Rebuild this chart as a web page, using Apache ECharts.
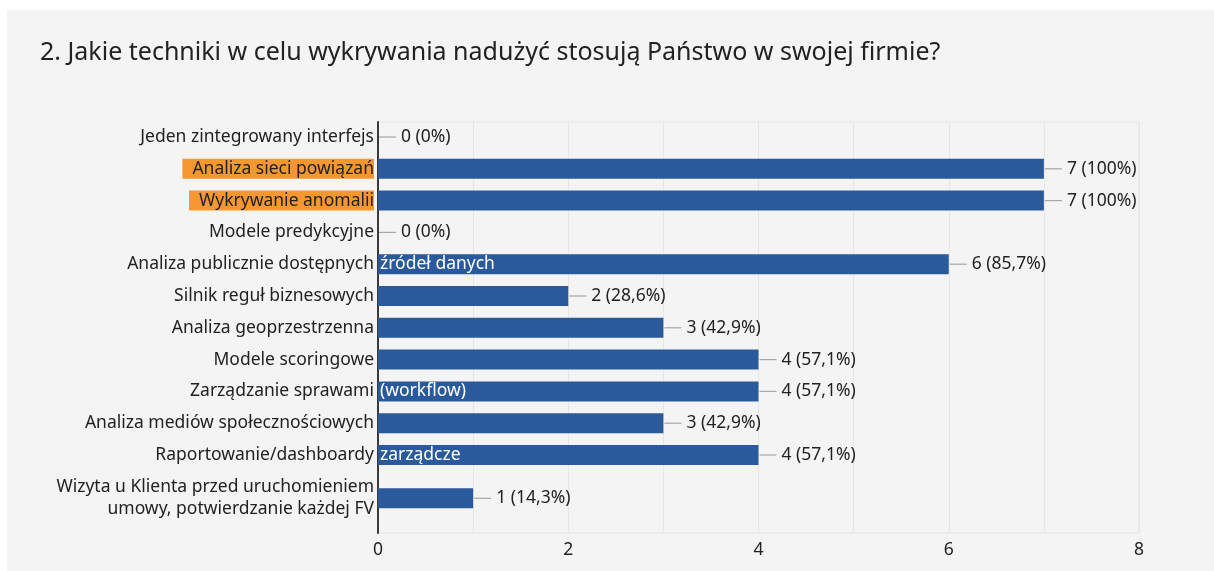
<!DOCTYPE html>
<html>
<head>
<meta charset="utf-8">
<script src="https://cdn.jsdelivr.net/npm/echarts@6/dist/echarts.min.js"></script>
<style>
html, body { margin: 0; padding: 0; background: #fff; }
#wykres { position: absolute; left: 7px; top: 10px; width: 1207px; height: 561px; background: #f4f4f4; }
</style>
</head>
<body>
<div id="wykres"></div>
<script>
var tytul = '2. Jakie techniki w celu wykrywania nadużyć stosują Państwo w swojej firmie?';
var kategorie = [
	'Jeden zintegrowany interfejs',
	'Analiza sieci powiązań',
	'Wykrywanie anomalii',
	'Modele predykcyjne',
	'Analiza publicznie dostępnych',
	'Silnik reguł biznesowych',
	'Analiza geoprzestrzenna',
	'Modele scoringowe',
	'Zarządzanie sprawami',
	'Analiza mediów społecznościowych',
	'Raportowanie/dashboardy',
	'Wizyta u Klienta przed uruchomieniem\numowy, potwierdzanie każdej FV'
];
var odpowiedzi = [0, 7, 7, 0, 6, 2, 3, 4, 4, 3, 4, 1];
var procenty = ['0%', '100%', '100%', '0%', '85,7%', '28,6%', '42,9%', '57,1%', '57,1%', '42,9%', '57,1%', '14,3%'];
// reszta nazwy, ktora "wylewa sie" na slupek
var nadmiar = ['', '', '', '', 'źródeł danych', '', '', '', '(workflow)', '', 'zarządcze', ''];
var wyroznione = ['Analiza sieci powiązań', 'Wykrywanie anomalii'];
var etykietyX = [0, 2, 4, 6, 8];

var czcionka = '"Noto Sans", sans-serif';
var tekst = '#222222';
var rozmiar = 17.5;

// ostatni wiersz ma dwie linie opisu, wiec dostaje osobny pas
var podzial = 11;

var chart = echarts.init(document.getElementById('wykres'));

function osKategorii(idx, od, doo) {
	return {
		gridIndex: idx,
		type: 'category',
		inverse: true,
		data: kategorie.slice(od, doo),
		axisLine: { show: false },
		axisTick: { show: false },
		axisLabel: {
			interval: 0,
			margin: 4,
			fontSize: rozmiar,
			lineHeight: 22,
			color: tekst,
			fontFamily: czcionka,
			formatter: function(v) {
				if (wyroznione.indexOf(v) >= 0) {
					return '{hl|' + v + '}';
				}
				return v;
			},
			rich: {
				hl: {
					backgroundColor: '#f7972f',
					color: tekst,
					fontSize: rozmiar,
					fontFamily: czcionka,
					lineHeight: 18,
					padding: [1, 0, 1, 10]
				}
			}
		}
	};
}

function serie(idx, od, doo) {
	var dane = odpowiedzi.slice(od, doo);
	return [
		{
			type: 'bar',
			xAxisIndex: idx,
			yAxisIndex: idx,
			data: dane,
			barWidth: 20,
			itemStyle: { color: '#2a5a9b' },
			label: {
				show: true,
				position: 'insideLeft',
				distance: 2,
				color: '#ffffff',
				fontSize: rozmiar,
				fontFamily: czcionka,
				formatter: function(p) {
					return nadmiar[od + p.dataIndex];
				}
			}
		},
		{
			type: 'bar',
			xAxisIndex: idx,
			yAxisIndex: idx,
			data: dane,
			barWidth: 20,
			barGap: '-100%',
			itemStyle: { color: 'transparent' },
			silent: true,
			label: {
				show: true,
				position: 'right',
				distance: 1,
				color: tekst,
				fontSize: rozmiar,
				fontFamily: czcionka,
				formatter: function(p) {
					var i = od + p.dataIndex;
					return '{ln|}{v|' + odpowiedzi[i] + ' (' + procenty[i] + ')}';
				},
				rich: {
					ln: { width: 17, height: 1.2, backgroundColor: '#a6a6a6' },
					v: { fontSize: rozmiar, color: tekst, fontFamily: czcionka, padding: [0, 0, 0, 5] }
				}
			}
		}
	];
}

var ukrytaOsX = function(idx) {
	return { gridIndex: idx, type: 'value', min: 0, max: 8, show: false };
};

var option = {
	backgroundColor: '#f4f4f4',
	animation: false,
	textStyle: { fontFamily: czcionka },
	title: {
		text: tytul,
		left: 33,
		top: 30,
		padding: 0,
		textStyle: { fontFamily: czcionka, fontSize: 25, fontWeight: 'normal', color: tekst }
	},
	grid: [
		// tlo: linie siatki i os X
		{ left: 371, top: 112, width: 761, bottom: 38, show: true, borderColor: '#e6e6e6', borderWidth: 1 },
		// slupki 1-11
		{ left: 371, top: 111.1, width: 761, height: 349.8 },
		// ostatni slupek
		{ left: 371, top: 472.4, width: 761, height: 31.8 }
	],
	xAxis: [
		{
			gridIndex: 0,
			type: 'value',
			min: 0,
			max: 8,
			interval: 1,
			axisLine: { show: false },
			axisTick: { show: false },
			splitLine: { lineStyle: { color: '#e6e6e6', width: 1 } },
			axisLabel: {
				margin: 8,
				fontSize: rozmiar,
				color: tekst,
				fontFamily: czcionka,
				formatter: function(v) {
					return etykietyX.indexOf(v) >= 0 ? String(v) : '';
				}
			}
		},
		ukrytaOsX(1),
		ukrytaOsX(2)
	],
	yAxis: [
		{
			gridIndex: 0,
			type: 'category',
			data: kategorie,
			axisLine: { show: true, lineStyle: { color: '#3a3a3a', width: 2 } },
			axisTick: { show: false },
			axisLabel: { show: false },
			splitLine: { show: false }
		},
		osKategorii(1, 0, podzial),
		osKategorii(2, podzial, kategorie.length)
	],
	series: serie(1, 0, podzial).concat(serie(2, podzial, kategorie.length))
};

chart.setOption(option);
</script>
</body>
</html>
